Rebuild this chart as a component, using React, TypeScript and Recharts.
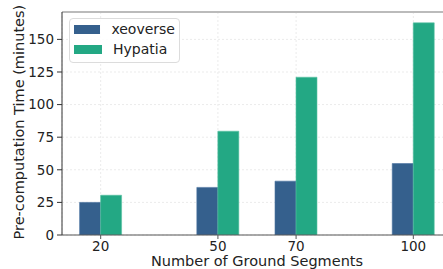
import React from "react";
import {
  BarChart,
  Bar,
  XAxis,
  YAxis,
  CartesianGrid,
  ReferenceLine,
} from "recharts";

const segments = [20, 50, 70, 100];
const xeoverse = [25, 36.5, 41.3, 54.8];
const hypatia = [30.5, 79.6, 121, 162.7];
const yTicks = [0, 25, 50, 75, 100, 125, 150];

const data = segments.map((s, i) => ({
  segments: s,
  xeoverse: xeoverse[i],
  hypatia: hypatia[i],
}));

const font = "'DejaVu Sans', sans-serif";

const series = [
  { key: "xeoverse", name: "xeoverse", color: "#35608d", edge: "#4a72a0" },
  { key: "hypatia", name: "Hypatia", color: "#23a884", edge: "#5cc3a4" },
];

const LegendBox = () => (
  <div
    style={{
      position: "absolute",
      left: 69,
      top: 18,
      width: 111,
      boxSizing: "border-box",
      border: "1px solid #dcdcdc",
      borderRadius: 4,
      background: "rgba(255,255,255,0.85)",
      padding: "1px 4px 3px 4px",
      fontFamily: font,
      fontSize: 14,
      color: "#222",
      lineHeight: "19.5px",
    }}
  >
    {series.map((s) => (
      <div key={s.key} style={{ display: "flex", alignItems: "center" }}>
        <span
          style={{
            display: "inline-block",
            width: 28,
            height: 9,
            background: s.color,
            marginRight: 11,
          }}
        />
        {s.name}
      </div>
    ))}
  </div>
);

export default function App() {
  return (
    <div
      style={{
        position: "absolute",
        left: 0,
        top: 0,
        width: 443,
        height: 269,
        overflow: "hidden",
        background: "#fff",
      }}
    >
      <BarChart
        width={452}
        height={269}
        data={data}
        barGap={0}
        barSize={21}
        margin={{ top: 12, right: 0, left: 0, bottom: 0 }}
      >
        <CartesianGrid stroke="#ebebeb" strokeDasharray="2 2" />
        <XAxis
          dataKey="segments"
          type="number"
          domain={[10.1, 109.9]}
          ticks={segments}
          allowDataOverflow
          height={34}
          tickSize={4}
          tickMargin={2}
          tick={{ fill: "#222", fontSize: 13.5, fontFamily: font }}
          axisLine={{ stroke: "#555" }}
          tickLine={{ stroke: "#555" }}
          label={{
            value: "Number of Ground Segments",
            position: "insideBottom",
            offset: 3,
            fill: "#222",
            fontSize: 14.5,
            fontFamily: font,
          }}
        />
        <YAxis
          domain={[0, 171]}
          ticks={yTicks}
          allowDataOverflow
          width={62}
          tickSize={5}
          tickMargin={3}
          tick={{ fill: "#222", fontSize: 13.5, fontFamily: font }}
          axisLine={{ stroke: "#333" }}
          tickLine={{ stroke: "#333" }}
          label={{
            value: "Pre-computation Time (minutes)",
            angle: -90,
            position: "insideLeft",
            offset: 19,
            dy: 116,
            fill: "#222",
            fontSize: 14.5,
            fontFamily: font,
          }}
        />
        <ReferenceLine y={171} stroke="#bbbbbb" strokeWidth={2} />
        {series.map((s) => (
          <Bar
            key={s.key}
            dataKey={s.key}
            name={s.name}
            fill={s.color}
            stroke={s.edge}
            strokeWidth={0.6}
            isAnimationActive={false}
          />
        ))}
      </BarChart>
      <LegendBox />
    </div>
  );
}
